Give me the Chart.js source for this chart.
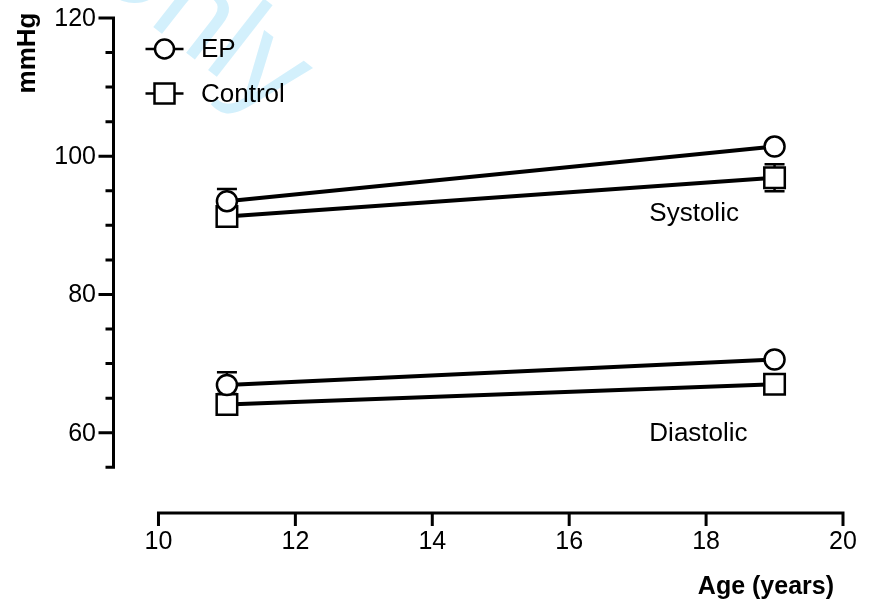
<!DOCTYPE html>
<html lang="en">
<head>
<meta charset="UTF-8">
<title>Blood pressure by age</title>
<script src="https://cdn.jsdelivr.net/npm/chart.js"></script>
<style>
    html, body { margin: 0; padding: 0; background: #fff; }
    #wrap { width: 873px; height: 603px; position: relative; }
</style>
</head>
<body>
<div id="wrap"><canvas id="bpChart"></canvas></div>
<script>
    // values (mean and SEM, mmHg)
    const ages = [11, 19];
    const epSystolic = [93.5, 101.4];
    const epSystolicSem = [1.75, 0.3];
    const controlSystolic = [91.3, 96.9];
    const controlSystolicSem = [1.5, 1.95];
    const epDiastolic = [66.9, 70.6];
    const epDiastolicSem = [1.85, 0.3];
    const controlDiastolic = [64.1, 67.0];
    const controlDiastolicSem = [1.5, 0.5];

    const xTicks = [10, 12, 14, 16, 18, 20];
    const yTicks = [60, 80, 100, 120];
    const yMinorTicks = [55, 65, 70, 75, 85, 90, 95, 105, 110, 115];
    const seriesNames = ['EP', 'Control'];
    const panelLabels = [
        { text: 'Systolic', x: 17.2, y: 91.6 },
        { text: 'Diastolic', x: 17.2, y: 59.8 }
    ];

    const FONT = '"Liberation Sans", Arial, Helvetica, sans-serif';

    function pts(ys) {
        return ages.map((a, i) => ({ x: a, y: ys[i] }));
    }

    function series(label, ys, shape) {
        const r = shape === 'rect' ? 14.5 : 10;
        return {
            label: label,
            data: pts(ys),
            showLine: true,
            borderColor: '#000',
            borderWidth: 4,
            pointStyle: shape,
            pointRadius: r,
            pointHoverRadius: r,
            pointBackgroundColor: '#fff',
            pointBorderColor: '#000',
            pointBorderWidth: 2.5
        };
    }

    const errorSets = [
        [epSystolic, epSystolicSem],
        [controlSystolic, controlSystolicSem],
        [epDiastolic, epDiastolicSem],
        [controlDiastolic, controlDiastolicSem]
    ];

    const prismLook = {
        id: 'prismLook',
        beforeDraw(chart) {
            // faint watermark behind the plot
            const ctx = chart.ctx;
            ctx.save();
            ctx.translate(70, -38);
            ctx.rotate(38 * Math.PI / 180);
            ctx.fillStyle = '#d3f0fc';
            ctx.font = '125px ' + FONT;
            ctx.textBaseline = 'alphabetic';
            ctx.fillText('Only', 0, 0);
            ctx.restore();
        },
        beforeDatasetsDraw(chart) {
            const ctx = chart.ctx;
            const xs = chart.scales.x, ys = chart.scales.y;
            ctx.save();
            ctx.strokeStyle = '#000';
            ctx.lineWidth = 2.5;
            errorSets.forEach(([means, sems]) => {
                ages.forEach((a, i) => {
                    const px = xs.getPixelForValue(a);
                    const top = ys.getPixelForValue(means[i] + sems[i]);
                    const bot = ys.getPixelForValue(means[i] - sems[i]);
                    ctx.beginPath();
                    ctx.moveTo(px, top); ctx.lineTo(px, bot);
                    ctx.moveTo(px - 10, top); ctx.lineTo(px + 10, top);
                    ctx.moveTo(px - 10, bot); ctx.lineTo(px + 10, bot);
                    ctx.stroke();
                });
            });
            ctx.restore();
        },
        afterDraw(chart) {
            const ctx = chart.ctx;
            const xs = chart.scales.x, ys = chart.scales.y;
            const area = chart.chartArea;
            ctx.save();
            ctx.strokeStyle = '#000';
            ctx.fillStyle = '#000';
            ctx.lineWidth = 3;
            ctx.lineCap = 'butt';

            // y axis
            const ax = area.left;
            ctx.beginPath();
            ctx.moveTo(ax, ys.getPixelForValue(120) - 1.5);
            ctx.lineTo(ax, ys.getPixelForValue(55) + 1.5);
            yTicks.forEach(v => {
                const py = ys.getPixelForValue(v);
                ctx.moveTo(ax - 15, py); ctx.lineTo(ax, py);
            });
            yMinorTicks.forEach(v => {
                const py = ys.getPixelForValue(v);
                ctx.moveTo(ax - 8, py); ctx.lineTo(ax, py);
            });
            ctx.stroke();

            ctx.font = '25px ' + FONT;
            ctx.textAlign = 'right';
            ctx.textBaseline = 'middle';
            yTicks.forEach(v => ctx.fillText(String(v), 96, ys.getPixelForValue(v) + 1));

            // x axis, offset below
            const ay = area.bottom;
            ctx.beginPath();
            ctx.moveTo(xs.getPixelForValue(10) - 1.5, ay);
            ctx.lineTo(xs.getPixelForValue(20) + 1.5, ay);
            xTicks.forEach(v => {
                const px = xs.getPixelForValue(v);
                ctx.moveTo(px, ay); ctx.lineTo(px, ay + 13);
            });
            ctx.stroke();

            ctx.textAlign = 'center';
            xTicks.forEach(v => ctx.fillText(String(v), xs.getPixelForValue(v), ay + 29));

            // axis titles
            ctx.font = 'bold 25px ' + FONT;
            ctx.textAlign = 'right';
            ctx.textBaseline = 'alphabetic';
            ctx.fillText('Age (years)', 834, 594);

            ctx.save();
            ctx.translate(35, 53);
            ctx.rotate(-Math.PI / 2);
            ctx.font = 'bold 26px ' + FONT;
            ctx.textAlign = 'center';
            ctx.fillText('mmHg', 0, 0);
            ctx.restore();

            // panel labels
            ctx.font = '26px ' + FONT;
            ctx.textAlign = 'left';
            ctx.textBaseline = 'middle';
            panelLabels.forEach(p => {
                ctx.fillText(p.text, xs.getPixelForValue(p.x) - 2, ys.getPixelForValue(p.y));
            });

            // legend
            const lx = 164.5;
            const rows = [49, 93.5];
            ctx.lineWidth = 2.5;
            rows.forEach((ry, i) => {
                ctx.beginPath();
                ctx.moveTo(lx - 19, ry); ctx.lineTo(lx + 19, ry);
                ctx.stroke();
                ctx.beginPath();
                if (i === 0) {
                    ctx.arc(lx, ry, 9.5, 0, Math.PI * 2);
                } else {
                    ctx.rect(lx - 10, ry - 10, 20, 20);
                }
                ctx.fillStyle = '#fff';
                ctx.fill();
                ctx.stroke();
                ctx.fillStyle = '#000';
                ctx.fillText(seriesNames[i], 201, ry + 1);
            });
            ctx.restore();
        }
    };

    new Chart(document.getElementById('bpChart'), {
        type: 'scatter',
        data: {
            datasets: [
                series('EP', epSystolic, 'circle'),
                series('Control', controlSystolic, 'rect'),
                series('EP', epDiastolic, 'circle'),
                series('Control', controlDiastolic, 'rect')
            ]
        },
        options: {
            responsive: true,
            maintainAspectRatio: false,
            animation: false,
            layout: { padding: { left: 113.5, top: 18, right: 30, bottom: 90 } },
            scales: {
                x: { type: 'linear', display: false, min: 9.343, max: 20 },
                y: { type: 'linear', display: false, min: 48.39, max: 120 }
            },
            plugins: {
                legend: { display: false },
                tooltip: { enabled: false }
            }
        },
        plugins: [prismLook]
    });
</script>
</body>
</html>
